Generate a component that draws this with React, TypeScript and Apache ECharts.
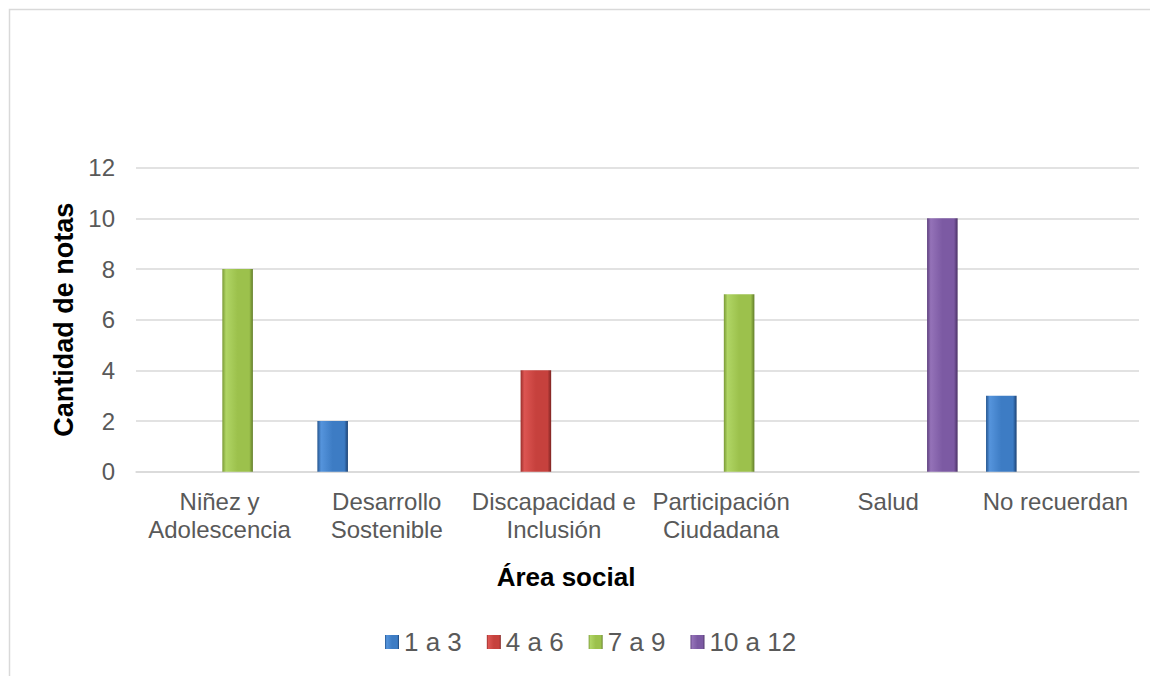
import React, { useEffect, useRef } from "react";
import * as echarts from "echarts";

const categories = [
  "Niñez y\nAdolescencia",
  "Desarrollo\nSostenible",
  "Discapacidad e\nInclusión",
  "Participación\nCiudadana",
  "Salud",
  "No recuerdan",
];
const seriesNames = ["1 a 3", "4 a 6", "7 a 9", "10 a 12"];
const s1a3 = [0, 2, 0, 0, 0, 3];
const s4a6 = [0, 0, 4, 0, 0, 0];
const s7a9 = [8, 0, 0, 7, 0, 0];
const s10a12 = [0, 0, 0, 0, 10, 0];
const yTicks = { min: 0, max: 12, interval: 2 };
const xTitle = "Área social";
const yTitle = "Cantidad de notas";

const palettes = [
  { edge: "#24558f", light: "#5594dc", mid: "#3d7cc4", dark: "#1c4273" },
  { edge: "#9a2f2c", light: "#dc5552", mid: "#c6413d", dark: "#7d2422" },
  { edge: "#7a9a36", light: "#b0d565", mid: "#9cc14c", dark: "#627d2a" },
  { edge: "#5d3f7d", light: "#9472b8", mid: "#7c5aa3", dark: "#4a3164" },
];

const grad = (p: any) =>
  new echarts.graphic.LinearGradient(0, 0, 1, 0, [
    { offset: 0, color: p.edge },
    { offset: 0.12, color: p.light },
    { offset: 0.5, color: p.mid },
    { offset: 0.88, color: p.mid },
    { offset: 1, color: p.dark },
  ]);

const FONT = 'Arial, "Liberation Sans", sans-serif';

export default function App() {
  const ref = useRef<HTMLDivElement>(null);
  useEffect(() => {
    if (!ref.current) return;
    const chart = echarts.init(ref.current, null, { renderer: "svg" });
    const data = [s1a3, s4a6, s7a9, s10a12];
    chart.setOption({
      animation: false,
      backgroundColor: "#ffffff",
      graphic: [
        {
          type: "rect",
          shape: { x: 9.5, y: 9.5, width: 1300, height: 800 },
          style: { fill: "none", stroke: "#d9d9d9", lineWidth: 1.5 },
          silent: true,
        },
        {
          type: "text",
          x: 566,
          y: 577,
          style: {
            text: xTitle,
            fontFamily: FONT,
            fontSize: 26,
            fontWeight: "bold",
            fill: "#000000",
            align: "center",
            verticalAlign: "middle",
          },
        },
      ],
      grid: { left: 136, right: 11, top: 167.7, bottom: 204.3 },
      legend: {
        left: 380,
        top: 624,
        itemWidth: 14,
        itemHeight: 14,
        itemGap: 25,
        icon: "rect",
        textStyle: { fontFamily: FONT, fontSize: 26, color: "#595959" },
        data: seriesNames,
      },
      xAxis: {
        type: "category",
        data: categories,
        axisLine: { show: true, lineStyle: { color: "#d9d9d9", width: 1.5 } },
        axisTick: { show: false },
        axisLabel: {
          interval: 0,
          margin: 16,
          fontFamily: FONT,
          fontSize: 24,
          lineHeight: 28,
          color: "#595959",
        },
      },
      yAxis: {
        type: "value",
        min: yTicks.min,
        max: yTicks.max,
        interval: yTicks.interval,
        name: yTitle,
        nameLocation: "middle",
        nameGap: 52,
        nameTextStyle: { fontFamily: FONT, fontSize: 27, fontWeight: "bold", color: "#000000" },
        axisLine: { show: false },
        axisTick: { show: false },
        splitLine: { lineStyle: { color: "#d9d9d9", width: 1.5 } },
        axisLabel: { margin: 21, fontFamily: FONT, fontSize: 24, color: "#595959" },
      },
      series: seriesNames.map((name, i) => ({
        name,
        type: "bar",
        data: data[i],
        barCategoryGap: "17%",
        barGap: "18%",
        itemStyle: { color: grad(palettes[i]) },
      })),
    });
    return () => chart.dispose();
  }, []);
  return (
    <div
      ref={ref}
      style={{ position: "fixed", left: 0, top: 0, width: 1150, height: 676 }}
    />
  );
}
